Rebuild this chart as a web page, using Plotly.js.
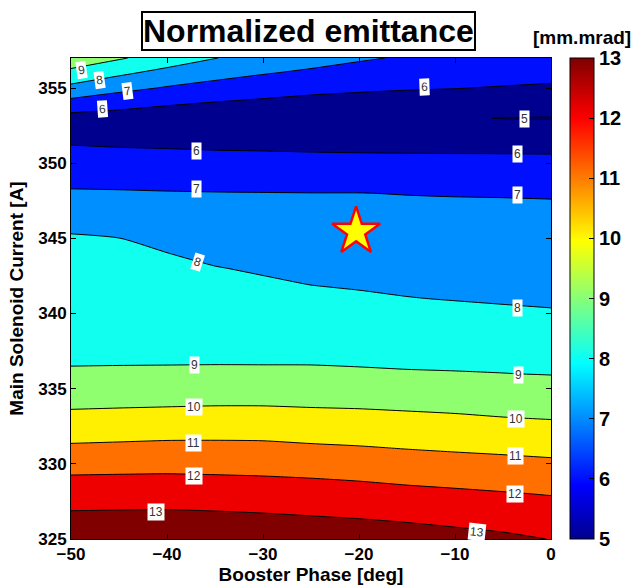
<!DOCTYPE html>
<html>
<head>
<meta charset="utf-8">
<script src="https://cdn.plot.ly/plotly-3.0.1.min.js"></script>
<style>
  html, body { margin: 0; padding: 0; background: #fff; }
  #chart { width: 644px; height: 587px; }
</style>
</head>
<body>
<div id="chart"></div>
<script>
// Grid: booster phase (deg) along x, main solenoid current (A) along y
const boosterPhase = [-50, -45, -40, -35, -30, -25, -20, -15, -10, -5, 0];
const solenoidCurrent = [325, 326, 327, 328, 329, 330, 331, 332, 333, 334, 335, 336, 337, 338, 339, 340,
                         341, 342, 343, 344, 345, 346, 347, 348, 349, 350, 351, 352, 353, 354, 355, 356, 357];

// Normalized emittance [mm.mrad], one row per solenoid current
const emittance = [
  [13.80, 13.80, 13.80, 13.80, 13.70, 13.60, 13.55, 13.45, 13.30, 13.17, 12.98],
  [13.37, 13.38, 13.39, 13.37, 13.29, 13.21, 13.14, 13.04, 12.92, 12.80, 12.66],
  [12.95, 12.97, 12.98, 12.94, 12.89, 12.82, 12.74, 12.64, 12.54, 12.43, 12.31],
  [12.53, 12.55, 12.56, 12.53, 12.48, 12.42, 12.34, 12.24, 12.15, 12.06, 11.96],
  [12.12, 12.14, 12.15, 12.12, 12.08, 12.02, 11.94, 11.83, 11.75, 11.66, 11.56],
  [11.65, 11.68, 11.71, 11.69, 11.66, 11.59, 11.51, 11.41, 11.33, 11.25, 11.16],
  [11.17, 11.21, 11.25, 11.25, 11.23, 11.15, 11.08, 10.99, 10.91, 10.84, 10.77],
  [10.70, 10.75, 10.80, 10.81, 10.80, 10.72, 10.67, 10.59, 10.52, 10.44, 10.37],
  [10.25, 10.30, 10.34, 10.37, 10.36, 10.30, 10.26, 10.19, 10.13, 10.04,  9.98],
  [ 9.85,  9.88,  9.91,  9.94,  9.94,  9.90,  9.87,  9.82,  9.76,  9.69,  9.64],
  [ 9.51,  9.53,  9.56,  9.58,  9.58,  9.55,  9.51,  9.46,  9.41,  9.36,  9.30],
  [ 9.06,  9.06,  9.08,  9.09,  9.10,  9.11,  9.09,  9.06,  9.04,  9.01,  8.97],
  [ 8.94,  8.95,  8.94,  8.94,  8.93,  8.92,  8.89,  8.85,  8.82,  8.79,  8.74],
  [ 8.83,  8.83,  8.81,  8.79,  8.76,  8.73,  8.69,  8.64,  8.60,  8.56,  8.52],
  [ 8.71,  8.71,  8.68,  8.64,  8.60,  8.54,  8.50,  8.44,  8.39,  8.34,  8.29],
  [ 8.60,  8.59,  8.54,  8.48,  8.43,  8.36,  8.30,  8.23,  8.17,  8.11,  8.06],
  [ 8.49,  8.47,  8.41,  8.33,  8.26,  8.17,  8.10,  8.02,  7.97,  7.93,  7.90],
  [ 8.37,  8.36,  8.27,  8.18,  8.09,  7.98,  7.92,  7.87,  7.83,  7.80,  7.77],
  [ 8.26,  8.24,  8.14,  8.03,  7.92,  7.82,  7.77,  7.72,  7.69,  7.66,  7.64],
  [ 8.18,  8.12,  8.01,  7.84,  7.74,  7.66,  7.62,  7.57,  7.55,  7.52,  7.51],
  [ 8.10,  8.01,  7.77,  7.64,  7.56,  7.50,  7.46,  7.43,  7.41,  7.39,  7.37],
  [ 7.77,  7.69,  7.53,  7.43,  7.38,  7.33,  7.31,  7.28,  7.27,  7.25,  7.24],
  [ 7.43,  7.38,  7.29,  7.23,  7.20,  7.17,  7.15,  7.14,  7.13,  7.12,  7.11],
  [ 7.10,  7.08,  7.05,  7.03,  7.02,  7.01,  7.01,  6.98,  6.96,  6.95,  6.93],
  [ 6.76,  6.74,  6.71,  6.69,  6.67,  6.66,  6.64,  6.62,  6.61,  6.59,  6.58],
  [ 6.42,  6.39,  6.36,  6.33,  6.31,  6.29,  6.27,  6.26,  6.25,  6.24,  6.23],
  [ 6.08,  6.03,  5.99,  5.95,  5.93,  5.90,  5.88,  5.87,  5.86,  5.86,  5.85],
  [ 5.70,  5.48,  5.47,  5.45,  5.44,  5.43,  5.42,  5.41,  5.41,  5.42,  5.41],
  [ 5.62,  5.58,  5.49,  5.38,  5.27,  5.16,  5.10,  5.07,  5.07,  4.98,  4.97],
  [ 6.67,  6.35,  6.11,  5.95,  5.82,  5.70,  5.63,  5.58,  5.54,  5.47,  5.43],
  [ 7.74,  7.27,  6.92,  6.65,  6.43,  6.26,  6.15,  6.07,  6.02,  5.95,  5.89],
  [ 8.72,  8.17,  7.69,  7.34,  7.06,  6.83,  6.62,  6.49,  6.39,  6.31,  6.24],
  [ 9.65,  9.10,  8.55,  8.02,  7.70,  7.40,  7.12,  6.90,  6.77,  6.66,  6.56]
];

// Contour levels and colorbar ticks
const levels = [5, 6, 7, 8, 9, 10, 11, 12, 13];

// Inline contour labels
const labelText    = ['9', '8', '7', '6', '6', '7', '8', '9', '10', '11', '12', '13',
                      '6', '5', '6', '7', '8', '9', '10', '11', '12', '13'];
const labelPhase   = [-48.89, -46.98, -44.11, -46.75, -36.93, -36.93, -36.86, -37.1, -37.2, -37.2, -37.2, -41.15,
                      -13.2, -2.73, -3.47, -3.47, -3.47, -3.4, -3.67, -3.67, -3.74, -7.66];
const labelCurrent = [356.22, 355.56, 354.78, 353.61, 350.79, 348.28, 343.40, 336.58, 333.81, 331.41, 329.19, 326.78,
                      355.05, 352.94, 350.63, 347.90, 340.36, 335.92, 332.99, 330.53, 327.98, 325.49];
const labelAngle   = [-8, -8, -7, -4, 0, 0, 18, 0, 0, 0, 0, 0,
                      -2, 0, 0, 0, 0, 0, 0, 0, 0, 6];

// Selected working point
const workPhase = [-20.3];
const workCurrent = [345.45];

const FONT = 'Liberation Sans, Arial, Helvetica, sans-serif';

// Fill colour of each band (below 5, 5-6, 6-7, ..., above 13)
const bandColors = [
  'rgb(0,0,143)', 'rgb(0,0,143)', 'rgb(0,16,255)', 'rgb(0,143,255)', 'rgb(16,255,239)',
  'rgb(143,255,112)', 'rgb(255,239,0)', 'rgb(255,112,0)', 'rgb(239,0,0)', 'rgb(128,0,0)'
];
const nb = bandColors.length - 1;
const bandScale = [];
bandColors.forEach(function (c, k) {
  bandScale.push([Math.max(0, (k - 0.5) / nb), c]);
  bandScale.push([Math.min(1, (k + 0.5) / nb), c]);
});

const jet = [
  [0.000, 'rgb(0,0,143)'],
  [0.111, 'rgb(0,0,255)'],
  [0.365, 'rgb(0,255,255)'],
  [0.619, 'rgb(255,255,0)'],
  [0.873, 'rgb(255,0,0)'],
  [1.000, 'rgb(128,0,0)']
];

const scaleTrace = {
  type: 'heatmap',
  x: boosterPhase,
  y: solenoidCurrent,
  z: emittance,
  zmin: levels[0],
  zmax: levels[levels.length - 1],
  colorscale: jet,
  hoverinfo: 'skip',
  showscale: true,
  colorbar: {
    thickness: 24, thicknessmode: 'pixels',
    len: 1, lenmode: 'fraction',
    x: 1.0406, xanchor: 'left', xpad: 0,
    y: 0.5, yanchor: 'middle', ypad: 0,
    outlinewidth: 1, outlinecolor: 'black',
    tickvals: levels,
    ticks: 'inside', ticklen: 5, tickcolor: 'black',
    tickfont: { family: FONT, size: 20, weight: 'bold', color: 'black' }
  }
};

const contourTrace = {
  type: 'contour',
  x: boosterPhase,
  y: solenoidCurrent,
  z: emittance,
  autocontour: false,
  contours: { start: levels[0], end: levels[levels.length - 1], size: 1, coloring: 'fill', showlines: true },
  colorscale: bandScale,
  line: { color: 'black', width: 1, smoothing: 0.6 },
  showscale: false,
  hoverinfo: 'skip'
};

const starTrace = {
  type: 'scatter',
  mode: 'markers',
  x: workPhase,
  y: workCurrent,
  marker: { symbol: 'star', size: 36, color: 'rgb(255,255,0)', line: { color: 'rgb(255,0,0)', width: 2.5 } },
  hoverinfo: 'skip',
  showlegend: false
};

const annotations = labelText.map(function (t, i) {
  return {
    x: labelPhase[i], y: labelCurrent[i], xref: 'x', yref: 'y',
    text: t, showarrow: false, textangle: labelAngle[i],
    font: { family: FONT, size: 12, color: '#333' },
    bgcolor: 'white', borderpad: 1
  };
});

annotations.push({
  xref: 'paper', yref: 'paper', x: 0.494, y: 1.056, xanchor: 'center', yanchor: 'middle',
  text: 'Normalized emittance', showarrow: false,
  font: { family: FONT, size: 32, weight: 'bold', color: 'black' },
  bgcolor: 'white', bordercolor: 'black', borderwidth: 2, borderpad: 0
});
annotations.push({
  xref: 'paper', yref: 'paper', x: 1.0646, y: 1.0416, xanchor: 'center', yanchor: 'middle',
  text: '[mm.mrad]', showarrow: false,
  font: { family: FONT, size: 19, weight: 'bold', color: 'black' }
});

const axisCommon = {
  showgrid: false, zeroline: false,
  showline: true, linecolor: 'black', linewidth: 1, mirror: 'ticks',
  ticks: 'inside', ticklen: 5, tickcolor: 'black', tickwidth: 1,
  tickfont: { family: FONT, size: 17, weight: 'bold', color: 'black' }
};

const layout = {
  width: 644, height: 587,
  margin: { l: 71, r: 93, t: 58, b: 48 },
  paper_bgcolor: 'white', plot_bgcolor: 'white',
  showlegend: false,
  xaxis: Object.assign({}, axisCommon, {
    range: [-50, 0], tickvals: [-50, -40, -30, -20, -10, 0],
    title: { text: 'Booster Phase [deg]', font: { family: FONT, size: 19, weight: 'bold', color: 'black' }, standoff: 2 }
  }),
  yaxis: Object.assign({}, axisCommon, {
    range: [325, 357], tickvals: [325, 330, 335, 340, 345, 350, 355],
    title: { text: 'Main Solenoid Current [A]', font: { family: FONT, size: 19, weight: 'bold', color: 'black' }, standoff: 9 }
  }),
  annotations: annotations
};

Plotly.newPlot('chart', [scaleTrace, contourTrace, starTrace], layout, { displayModeBar: false, staticPlot: true });
</script>
</body>
</html>
